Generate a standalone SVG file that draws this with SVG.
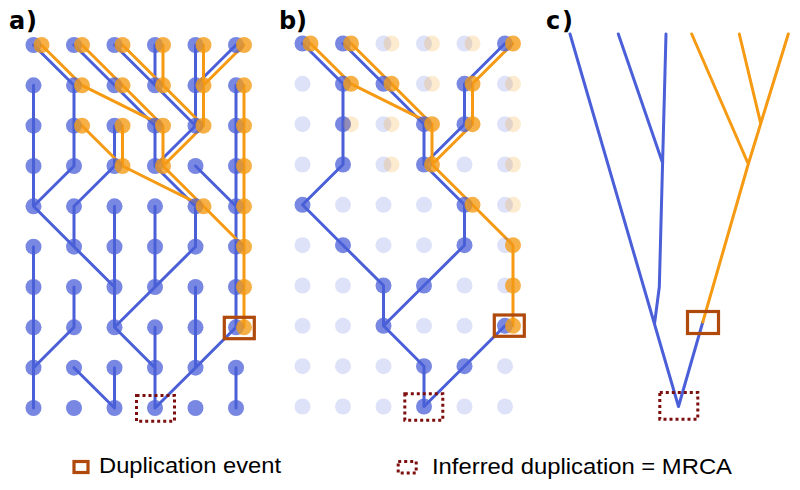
<svg xmlns="http://www.w3.org/2000/svg" width="800" height="490" viewBox="0 0 800 490">
<style>
.bl{fill:none;stroke:#4a5fd8;stroke-width:3;stroke-linecap:round;stroke-linejoin:round}
.ol{fill:none;stroke:#f59a12;stroke-width:3;stroke-linecap:round;stroke-linejoin:round}
.b{fill:#4a5fd8;fill-opacity:0.75}
.o{fill:#f59a12;fill-opacity:0.78}
.bf{fill:#4a5fd8;fill-opacity:0.18}
.of{fill:#f59a12;fill-opacity:0.2}
.dup{fill:none;stroke:#b04a0c;stroke-width:3.2}
.mrca{fill:none;stroke:#7d0e0e;stroke-width:3;stroke-dasharray:3 3}
.lab{font-family:"DejaVu Sans",sans-serif;font-weight:bold;font-size:24px;fill:#000}
.leg{font-family:"Liberation Sans",Arial,sans-serif;font-size:22px;fill:#000}
</style>
<rect width="800" height="490" fill="#fff"/>
<text class="lab" x="9" y="29" textLength="28" lengthAdjust="spacing">a)</text>
<text class="lab" x="279" y="29" textLength="28" lengthAdjust="spacing">b)</text>
<text class="lab" x="546" y="29" textLength="27" lengthAdjust="spacing">c)</text>

<g id="connectors">
<path id="a-blue-lines" class="bl" d="M33.5 45L74 85.3M74 45L114.5 85.3M114.5 45L155 85.3M155 45L155 85.3M195.5 45L195.5 85.3M236 45L195.5 85.3
M33.5 85.3L33.5 125.7M74 85.3L74 125.7M114.5 85.3L155 125.7M155 85.3L195.5 125.7M195.5 85.3L195.5 125.7M236 85.3L236 125.7
M33.5 125.7L33.5 166M74 125.7L74 166M114.5 125.7L114.5 166M155 125.7L155 166M195.5 125.7L155 166M236 125.7L236 166
M33.5 166L33.5 206.3M74 166L33.5 206.3M114.5 166L74 206.3M155 166L195.5 206.3M195.5 166L236 206.3M236 166L236 206.3
M33.5 206.3L74 246.7M74 206.3L74 246.7M114.5 206.3L114.5 246.7M155 206.3L155 246.7M195.5 206.3L195.5 246.7M236 206.3L236 246.7
M33.5 246.7L33.5 287M74 246.7L114.5 287M114.5 246.7L114.5 287M155 246.7L155 287M195.5 246.7L155 287M236 246.7L236 287
M33.5 287L33.5 327.3M74 287L74 327.3M114.5 287L114.5 327.3M155 287L114.5 327.3M195.5 287L195.5 327.3M236 287L236 327.3
M33.5 327.3L33.5 367.7M74 327.3L33.5 367.7M114.5 327.3L155 367.7M155 327.3L155 367.7M195.5 327.3L195.5 367.7M236 327.3L195.5 367.7
M33.5 367.7L33.5 408M74 367.7L114.5 408M114.5 367.7L114.5 408M155 367.7L155 408M195.5 367.7L155 408M236 367.7L236 408"/>
<path id="a-orange-lines" class="ol" d="M41.5 45L82 85.3M82 45L122.5 85.3M122.5 45L163 85.3M163 45L163 85.3M203.5 45L203.5 85.3M244 45L203.5 85.3
M82 85.3L163 125.7M122.5 85.3L163 125.7M163 85.3L203.5 125.7M203.5 85.3L203.5 125.7M244 85.3L244 125.7
M82 125.7L122.5 166M122.5 125.7L122.5 166M163 125.7L163 166M203.5 125.7L163 166M244 125.7L244 166
M122.5 166L203.5 206.3M163 166L203.5 206.3M244 166L244 206.3
M203.5 206.3L244 246.7M244 206.3L244 246.7M244 246.7L244 287M244 287L244 327.3"/>
<path id="b-blue-lines" class="bl" d="M302.5 43.5L343 83.8L343 124.2L343 164.5L302.5 204.8L343 245.2L383.5 285.5L383.5 325.8L424 366.2L424 406.5
M343 43.5L383.5 83.8L424 124.2L424 164.5L464.5 204.8L464.5 245.2L424 285.5L383.5 325.8
M505 43.5L464.5 83.8L464.5 124.2L424 164.5
M505 325.8L464.5 366.2L424 406.5"/>
<path id="b-orange-lines" class="ol" d="M310.5 43.5L351 83.8L432 124.2L432 164.5L472.5 204.8L513 245.2L513 285.5L513 325.8
M351 43.5L391.5 83.8L432 124.2
M513 43.5L472.5 83.8L472.5 124.2L432 164.5"/>
<path id="c-blue-lines" class="bl" d="M570 34L678.5 406.5L702.8 322M618.3 34L662.7 163.3M666 34L659.3 287L654.5 324" stroke-linecap="butt"/>
<path id="c-orange-lines" class="ol" d="M691.7 34L748.3 164M788.3 34L748.3 164M739.3 34L760.7 123.3M748.3 164L702.8 322" stroke-linecap="butt"/>
</g>

<g id="panel-a-blue-dots">
<circle class="b" r="8" cx="33.5" cy="45"/><circle class="b" r="8" cx="74" cy="45"/><circle class="b" r="8" cx="114.5" cy="45"/><circle class="b" r="8" cx="155" cy="45"/><circle class="b" r="8" cx="195.5" cy="45"/><circle class="b" r="8" cx="236" cy="45"/>
<circle class="b" r="8" cx="33.5" cy="85.3"/><circle class="b" r="8" cx="74" cy="85.3"/><circle class="b" r="8" cx="114.5" cy="85.3"/><circle class="b" r="8" cx="155" cy="85.3"/><circle class="b" r="8" cx="195.5" cy="85.3"/><circle class="b" r="8" cx="236" cy="85.3"/>
<circle class="b" r="8" cx="33.5" cy="125.7"/><circle class="b" r="8" cx="74" cy="125.7"/><circle class="b" r="8" cx="114.5" cy="125.7"/><circle class="b" r="8" cx="155" cy="125.7"/><circle class="b" r="8" cx="195.5" cy="125.7"/><circle class="b" r="8" cx="236" cy="125.7"/>
<circle class="b" r="8" cx="33.5" cy="166"/><circle class="b" r="8" cx="74" cy="166"/><circle class="b" r="8" cx="114.5" cy="166"/><circle class="b" r="8" cx="155" cy="166"/><circle class="b" r="8" cx="195.5" cy="166"/><circle class="b" r="8" cx="236" cy="166"/>
<circle class="b" r="8" cx="33.5" cy="206.3"/><circle class="b" r="8" cx="74" cy="206.3"/><circle class="b" r="8" cx="114.5" cy="206.3"/><circle class="b" r="8" cx="155" cy="206.3"/><circle class="b" r="8" cx="195.5" cy="206.3"/><circle class="b" r="8" cx="236" cy="206.3"/>
<circle class="b" r="8" cx="33.5" cy="246.7"/><circle class="b" r="8" cx="74" cy="246.7"/><circle class="b" r="8" cx="114.5" cy="246.7"/><circle class="b" r="8" cx="155" cy="246.7"/><circle class="b" r="8" cx="195.5" cy="246.7"/><circle class="b" r="8" cx="236" cy="246.7"/>
<circle class="b" r="8" cx="33.5" cy="287"/><circle class="b" r="8" cx="74" cy="287"/><circle class="b" r="8" cx="114.5" cy="287"/><circle class="b" r="8" cx="155" cy="287"/><circle class="b" r="8" cx="195.5" cy="287"/><circle class="b" r="8" cx="236" cy="287"/>
<circle class="b" r="8" cx="33.5" cy="327.3"/><circle class="b" r="8" cx="74" cy="327.3"/><circle class="b" r="8" cx="114.5" cy="327.3"/><circle class="b" r="8" cx="155" cy="327.3"/><circle class="b" r="8" cx="195.5" cy="327.3"/><circle class="b" r="8" cx="236" cy="327.3"/>
<circle class="b" r="8" cx="33.5" cy="367.7"/><circle class="b" r="8" cx="74" cy="367.7"/><circle class="b" r="8" cx="114.5" cy="367.7"/><circle class="b" r="8" cx="155" cy="367.7"/><circle class="b" r="8" cx="195.5" cy="367.7"/><circle class="b" r="8" cx="236" cy="367.7"/>
<circle class="b" r="8" cx="33.5" cy="408"/><circle class="b" r="8" cx="74" cy="408"/><circle class="b" r="8" cx="114.5" cy="408"/><circle class="b" r="8" cx="155" cy="408"/><circle class="b" r="8" cx="195.5" cy="408"/><circle class="b" r="8" cx="236" cy="408"/>
</g>
<g id="panel-a-orange-dots">
<circle class="o" r="8" cx="41.5" cy="45"/><circle class="o" r="8" cx="82" cy="45"/><circle class="o" r="8" cx="122.5" cy="45"/><circle class="o" r="8" cx="163" cy="45"/><circle class="o" r="8" cx="203.5" cy="45"/><circle class="o" r="8" cx="244" cy="45"/>
<circle class="o" r="8" cx="82" cy="85.3"/><circle class="o" r="8" cx="122.5" cy="85.3"/><circle class="o" r="8" cx="163" cy="85.3"/><circle class="o" r="8" cx="203.5" cy="85.3"/><circle class="o" r="8" cx="244" cy="85.3"/>
<circle class="o" r="8" cx="82" cy="125.7"/><circle class="o" r="8" cx="122.5" cy="125.7"/><circle class="o" r="8" cx="163" cy="125.7"/><circle class="o" r="8" cx="203.5" cy="125.7"/><circle class="o" r="8" cx="244" cy="125.7"/>
<circle class="o" r="8" cx="122.5" cy="166"/><circle class="o" r="8" cx="163" cy="166"/><circle class="o" r="8" cx="244" cy="166"/>
<circle class="o" r="8" cx="203.5" cy="206.3"/><circle class="o" r="8" cx="244" cy="206.3"/>
<circle class="o" r="8" cx="244" cy="246.7"/><circle class="o" r="8" cx="244" cy="287"/><circle class="o" r="8" cx="244" cy="327.3"/>
</g>

<g id="panel-b-blue-dots">
<circle class="b" r="8" cx="302.5" cy="43.5"/><circle class="b" r="8" cx="343" cy="43.5"/><circle class="bf" r="8" cx="383.5" cy="43.5"/><circle class="bf" r="8" cx="424" cy="43.5"/><circle class="bf" r="8" cx="464.5" cy="43.5"/><circle class="b" r="8" cx="505" cy="43.5"/>
<circle class="bf" r="8" cx="302.5" cy="83.8"/><circle class="b" r="8" cx="343" cy="83.8"/><circle class="b" r="8" cx="383.5" cy="83.8"/><circle class="bf" r="8" cx="424" cy="83.8"/><circle class="b" r="8" cx="464.5" cy="83.8"/><circle class="bf" r="8" cx="505" cy="83.8"/>
<circle class="bf" r="8" cx="302.5" cy="124.2"/><circle class="b" r="8" cx="343" cy="124.2"/><circle class="bf" r="8" cx="383.5" cy="124.2"/><circle class="b" r="8" cx="424" cy="124.2"/><circle class="b" r="8" cx="464.5" cy="124.2"/><circle class="bf" r="8" cx="505" cy="124.2"/>
<circle class="bf" r="8" cx="302.5" cy="164.5"/><circle class="b" r="8" cx="343" cy="164.5"/><circle class="bf" r="8" cx="383.5" cy="164.5"/><circle class="b" r="8" cx="424" cy="164.5"/><circle class="bf" r="8" cx="464.5" cy="164.5"/><circle class="bf" r="8" cx="505" cy="164.5"/>
<circle class="b" r="8" cx="302.5" cy="204.8"/><circle class="bf" r="8" cx="343" cy="204.8"/><circle class="bf" r="8" cx="383.5" cy="204.8"/><circle class="bf" r="8" cx="424" cy="204.8"/><circle class="b" r="8" cx="464.5" cy="204.8"/><circle class="bf" r="8" cx="505" cy="204.8"/>
<circle class="bf" r="8" cx="302.5" cy="245.2"/><circle class="b" r="8" cx="343" cy="245.2"/><circle class="bf" r="8" cx="383.5" cy="245.2"/><circle class="bf" r="8" cx="424" cy="245.2"/><circle class="b" r="8" cx="464.5" cy="245.2"/><circle class="bf" r="8" cx="505" cy="245.2"/>
<circle class="bf" r="8" cx="302.5" cy="285.5"/><circle class="bf" r="8" cx="343" cy="285.5"/><circle class="b" r="8" cx="383.5" cy="285.5"/><circle class="b" r="8" cx="424" cy="285.5"/><circle class="bf" r="8" cx="464.5" cy="285.5"/><circle class="bf" r="8" cx="505" cy="285.5"/>
<circle class="bf" r="8" cx="302.5" cy="325.8"/><circle class="bf" r="8" cx="343" cy="325.8"/><circle class="b" r="8" cx="383.5" cy="325.8"/><circle class="bf" r="8" cx="424" cy="325.8"/><circle class="bf" r="8" cx="464.5" cy="325.8"/><circle class="b" r="8" cx="505" cy="325.8"/>
<circle class="bf" r="8" cx="302.5" cy="366.2"/><circle class="bf" r="8" cx="343" cy="366.2"/><circle class="bf" r="8" cx="383.5" cy="366.2"/><circle class="b" r="8" cx="424" cy="366.2"/><circle class="b" r="8" cx="464.5" cy="366.2"/><circle class="bf" r="8" cx="505" cy="366.2"/>
<circle class="bf" r="8" cx="302.5" cy="406.5"/><circle class="bf" r="8" cx="343" cy="406.5"/><circle class="bf" r="8" cx="383.5" cy="406.5"/><circle class="b" r="8" cx="424" cy="406.5"/><circle class="bf" r="8" cx="464.5" cy="406.5"/><circle class="bf" r="8" cx="505" cy="406.5"/>
</g>
<g id="panel-b-orange-dots">
<circle class="o" r="8" cx="310.5" cy="43.5"/><circle class="o" r="8" cx="351" cy="43.5"/><circle class="of" r="8" cx="391.5" cy="43.5"/><circle class="of" r="8" cx="432" cy="43.5"/><circle class="of" r="8" cx="472.5" cy="43.5"/><circle class="o" r="8" cx="513" cy="43.5"/>
<circle class="o" r="8" cx="351" cy="83.8"/><circle class="o" r="8" cx="391.5" cy="83.8"/><circle class="of" r="8" cx="432" cy="83.8"/><circle class="o" r="8" cx="472.5" cy="83.8"/><circle class="of" r="8" cx="513" cy="83.8"/>
<circle class="of" r="8" cx="351" cy="124.2"/><circle class="of" r="8" cx="391.5" cy="124.2"/><circle class="o" r="8" cx="432" cy="124.2"/><circle class="o" r="8" cx="472.5" cy="124.2"/><circle class="of" r="8" cx="513" cy="124.2"/>
<circle class="of" r="8" cx="391.5" cy="164.5"/><circle class="o" r="8" cx="432" cy="164.5"/><circle class="of" r="8" cx="513" cy="164.5"/>
<circle class="o" r="8" cx="472.5" cy="204.8"/><circle class="of" r="8" cx="513" cy="204.8"/>
<circle class="o" r="8" cx="513" cy="245.2"/><circle class="o" r="8" cx="513" cy="285.5"/><circle class="o" r="8" cx="513" cy="325.8"/>
</g>

<g id="duplication-boxes">
<rect class="dup" x="224.3" y="317.3" width="30" height="21.4"/>
<rect class="dup" x="494.3" y="315" width="30" height="21.3"/>
<rect class="dup" x="687.5" y="311.5" width="31" height="22"/>
</g>
<g id="mrca-boxes">
<rect class="mrca" x="136.5" y="395.5" width="38" height="25.7"/>
<rect class="mrca" x="404.8" y="393.8" width="38" height="26.4"/>
<rect class="mrca" x="659.8" y="392.5" width="38" height="26.7"/>
</g>

<g id="legend">
<rect class="dup" x="74" y="461.5" width="14" height="11"/>
<text class="leg" x="99" y="473.3" textLength="182" lengthAdjust="spacingAndGlyphs">Duplication event</text>
<rect class="mrca" x="398.2" y="461.5" width="18" height="11.5" stroke-width="2.6"/>
<text class="leg" x="432" y="474" textLength="300" lengthAdjust="spacingAndGlyphs">Inferred duplication = MRCA</text>
</g>
</svg>
